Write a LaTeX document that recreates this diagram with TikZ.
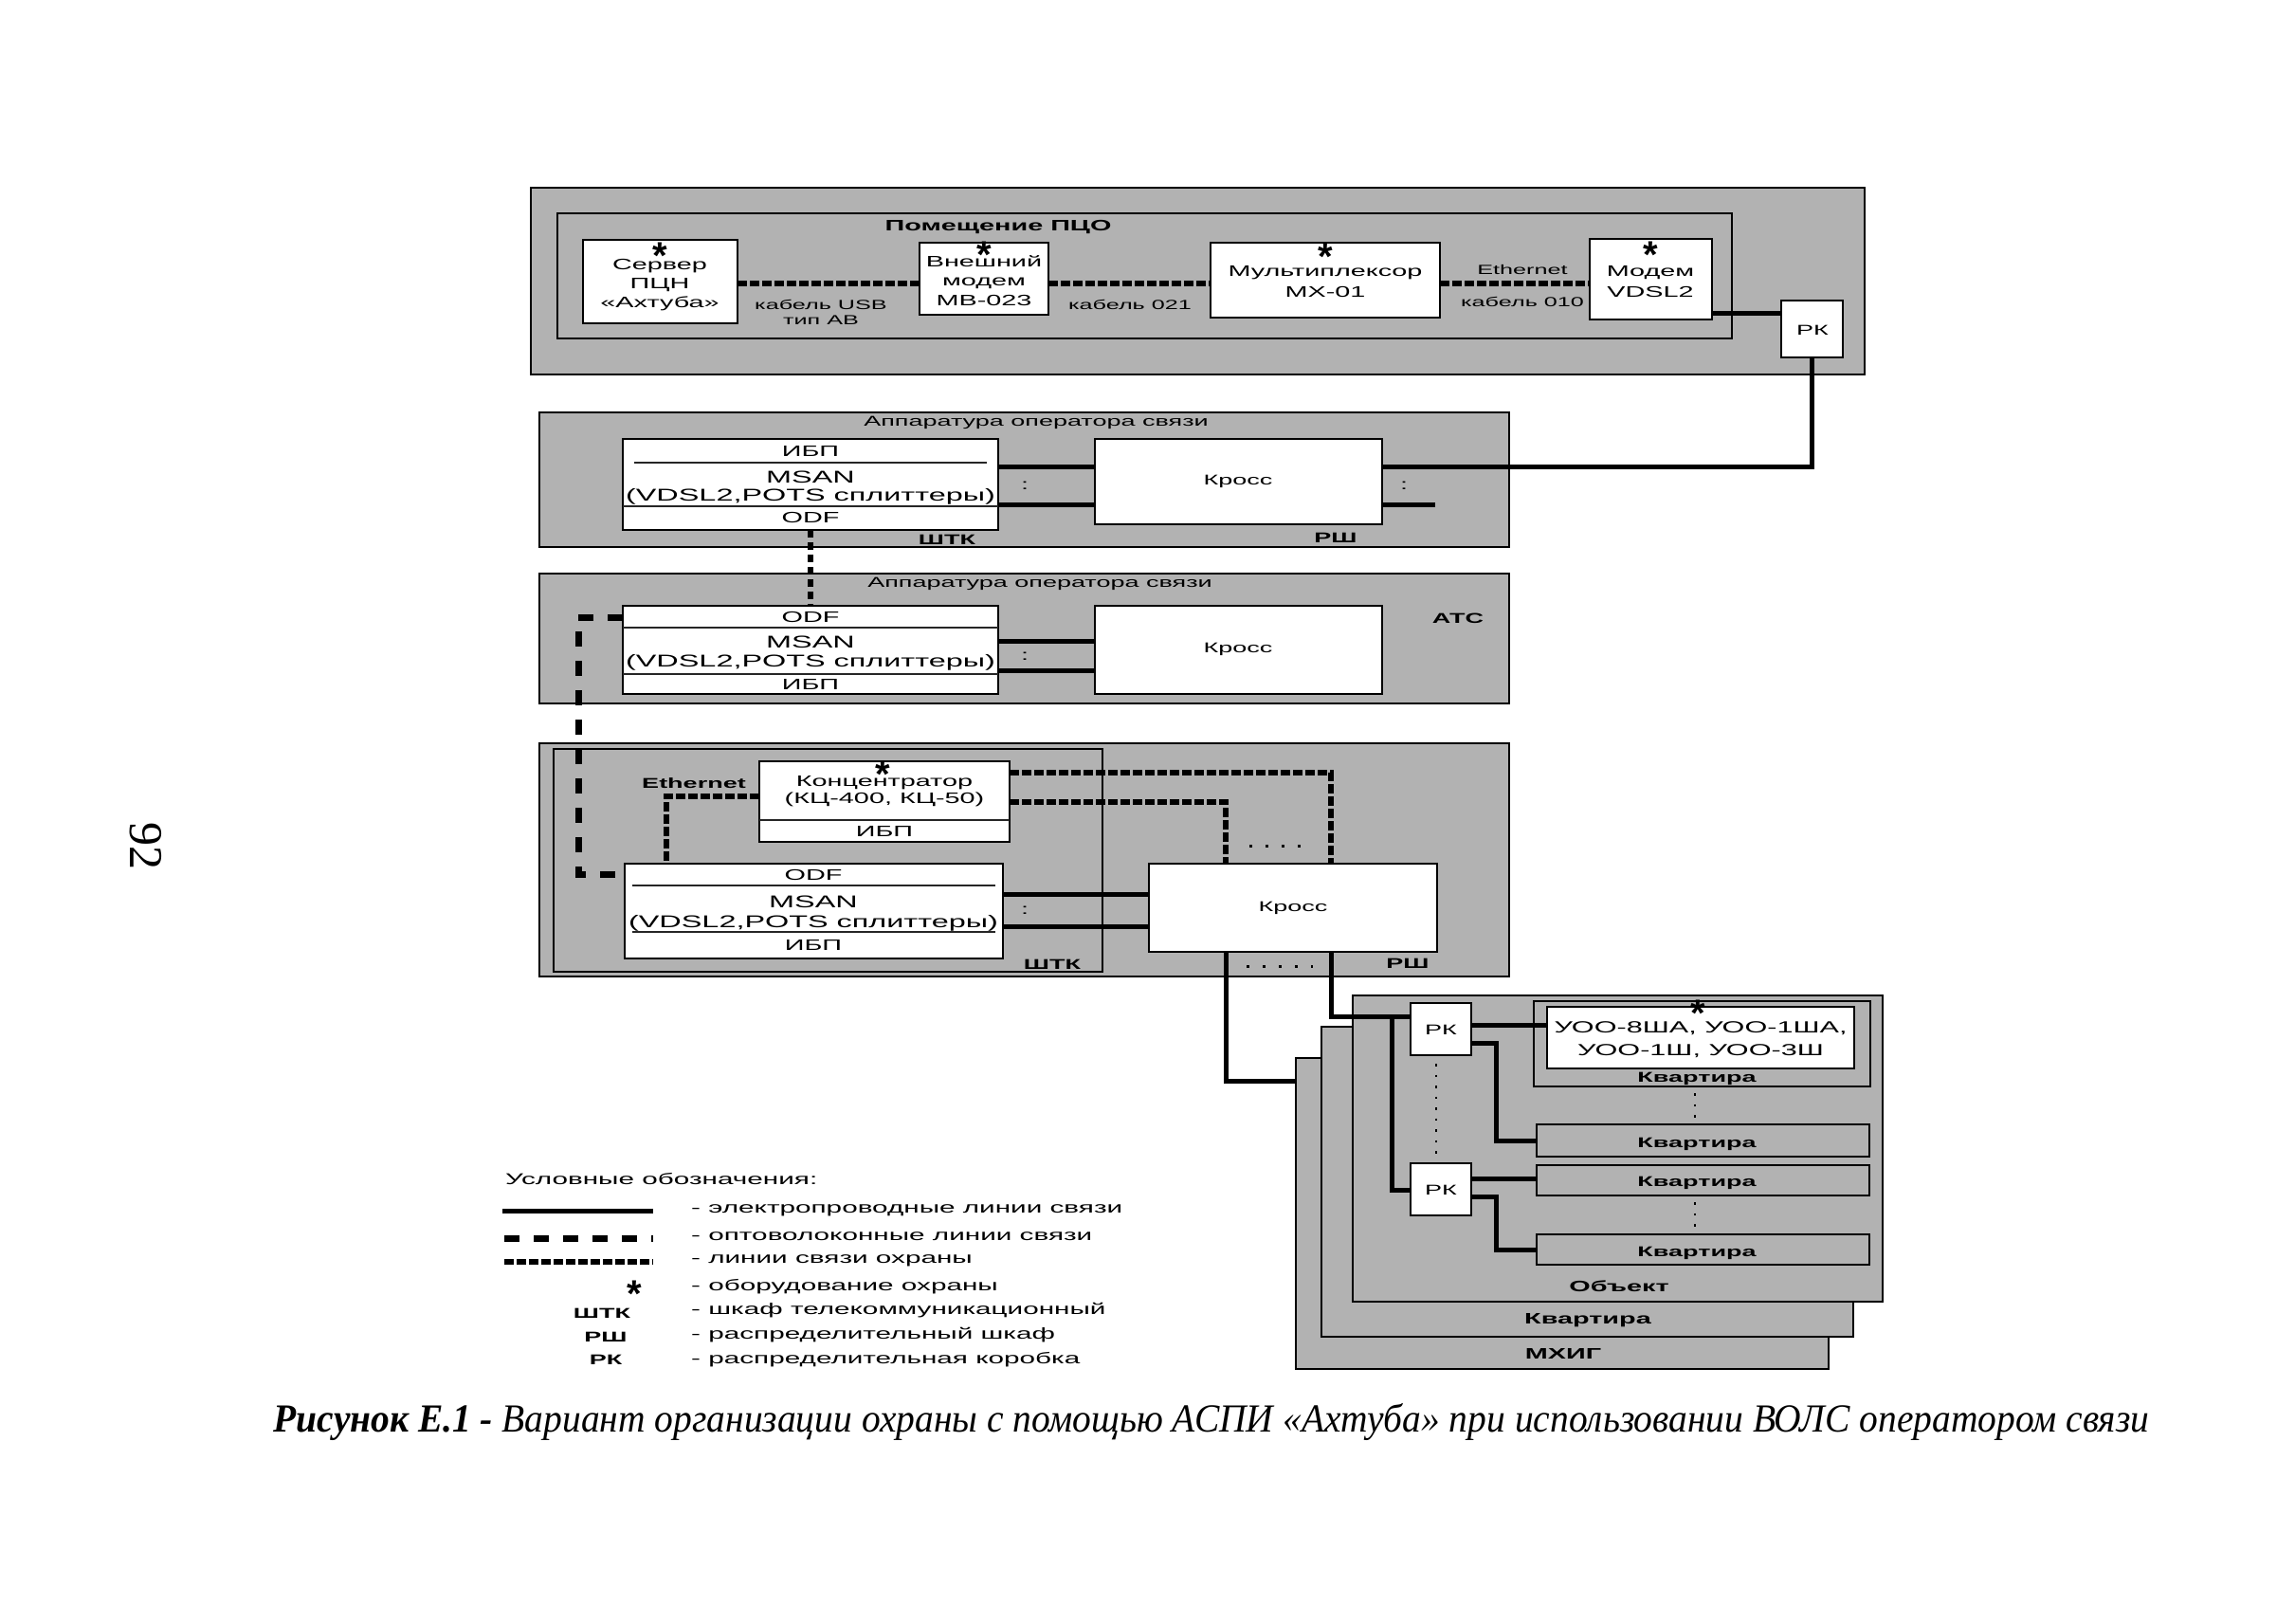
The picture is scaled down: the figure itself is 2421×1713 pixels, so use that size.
\documentclass[tikz,border=0pt]{standalone}
\usepackage{fontspec}
\setmainfont{Liberation Sans}
\newfontfamily\dgfont[FakeStretch=1.8]{Liberation Sans}
\newfontfamily\capfont[FakeStretch=0.94]{Liberation Serif}
\newfontfamily\pnfont{Liberation Serif}
\newfontfamily\starfont{Liberation Sans}
\usetikzlibrary{fit}
\begin{document}
\begin{tikzpicture}[x=1pt,y=-1pt,
  panel/.style={draw=black,line width=1.5pt,fill=black!30,inner sep=0pt,outer sep=0pt},
  frm/.style={draw=black,line width=1.5pt,inner sep=0pt,outer sep=0pt},
  wbox/.style={draw=black,line width=1.5pt,fill=white,inner sep=0pt,outer sep=0pt},
  kfont/.style={font=\dgfont\fontsize{15}{18}\selectfont,inner sep=0pt},
  txt/.style={font=\dgfont\fontsize{16}{20}\selectfont,inner sep=0pt},
  btx/.style={font=\dgfont\fontsize{16}{20}\selectfont,inner sep=0pt,anchor=base},
  mtxt/.style={font=\dgfont\fontsize{18}{20}\selectfont,inner sep=0pt,anchor=base},
  utxt/.style={font=\dgfont\fontsize{17}{20}\selectfont,inner sep=0pt,anchor=base},
  stxt/.style={font=\dgfont\fontsize{14}{17}\selectfont,inner sep=0pt,anchor=base},
  ttxt/.style={font=\dgfont\fontsize{15}{18}\selectfont,inner sep=0pt},
  btxt/.style={font=\dgfont\bfseries\fontsize{15}{18}\selectfont,inner sep=0pt},
  bbtxt/.style={font=\dgfont\bfseries\fontsize{16}{19}\selectfont,inner sep=0pt},
  legtxt/.style={font=\dgfont\fontsize{16.5}{19}\selectfont,inner sep=0pt,anchor=west},
  sstar/.style={font=\starfont\bfseries\fontsize{40}{40}\selectfont,inner sep=0pt,anchor=north},
  sepl/.style={line width=1.2pt,draw=black!85},
  elec/.style={line width=5pt},
  secl/.style={line width=6pt,dash pattern=on 10pt off 3pt},
  odfl/.style={line width=6pt,dash pattern=on 8pt off 5pt},
  optl/.style={line width=7pt,dash pattern=on 16pt off 15pt},
  dotl/.style={line width=2.5pt,dash pattern=on 2.5pt off 9pt},
  hdotl/.style={line width=3pt,dash pattern=on 3pt off 14pt},
]
\useasboundingbox[fill=white] (0,0) rectangle (2421,1713);

% page number
\node[font=\pnfont\fontsize{50}{50}\selectfont,rotate=-90,inner sep=0pt] (pnum) at (154,892) {92};

% ================= ПЦО
\node[panel,fit={(560,198)(1967,395)}] (pco) {};
\node[panel,fit={(588,225)(1827,357)}] (pcoin) {};
\node[bbtxt] (pcot) at (1053,240) {Помещение ПЦО};
\node[wbox,fit={(615,253)(778,341)}] (srv) {};
\node[btx] (srv1) at (696,284) {Сервер};
\node[btx] (srv2) at (696,304) {ПЦН};
\node[btx] (srv3) at (696,324) {«Ахтуба»};
\node[wbox,fit={(970,256)(1106,332)}] (mdm) {};
\node[btx] (mdm1) at (1038,281) {Внешний};
\node[btx] (mdm2) at (1038,301) {модем};
\node[btx] (mdm3) at (1038,322) {MB-023};
\node[wbox,fit={(1277,256)(1519,335)}] (mux) {};
\node[btx] (mux1) at (1398,291) {Мультиплексор};
\node[btx] (mux2) at (1398,313) {MX-01};
\node[wbox,fit={(1677,252)(1806,337)}] (vdsl) {};
\node[btx] (vdsl1) at (1741,291) {Модем};
\node[btx] (vdsl2) at (1741,313) {VDSL2};
\node[wbox,fit={(1879,317)(1944,377)}] (rk0) {};
\node[kfont] (rk0t) at (1912,348) {РК};
\node[sstar] (st1) at (696,256) {*};
\node[sstar] (st2) at (1038,255) {*};
\node[sstar] (st3) at (1398,257) {*};
\node[sstar] (st4) at (1741,255) {*};
\node[stxt] (l1a) at (866,326) {кабель USB};
\node[stxt] (l1b) at (866,342) {тип AB};
\node[stxt] (l2) at (1192,326) {кабель 021};
\node[stxt] (l3) at (1606,289) {Ethernet};
\node[stxt] (l4) at (1606,323) {кабель 010};

% ================= Аппаратура 1 (ШТК / РШ)
\node[panel,fit={(569,435)(1592,577)}] (op1) {};
\node[ttxt] (op1t) at (1093,446) {Аппаратура оператора связи};
\node[wbox,fit={(657,463)(1053,559)}] (msan2) {};
\draw[sepl] ([xshift=12pt]msan2.west |- 0,488) -- ([xshift=-12pt]msan2.east |- 0,488);
\draw[sepl] (msan2.west |- 0,534) -- (msan2.east |- 0,534);
\node[txt] (msan2a) at (855,476) {ИБП};
\node[mtxt] (msan2b) at (855,509) {MSAN};
\node[mtxt] (msan2d) at (855,528) {(VDSL2,POTS сплиттеры)};
\node[txt] (msan2c) at (855,546) {ODF};
\node[wbox,fit={(1155,463)(1458,553)}] (kr2) {};
\node[kfont] (kr2t) at (1306,508) {Кросс};
\node[txt] (c2a) at (1081,512) {:};
\node[txt] (c2b) at (1481,512) {:};
\node[btxt] (shtk2) at (999,569) {ШТК};
\node[btxt] (rsh2) at (1409,567) {РШ};

% ================= Аппаратура 2 (АТС)
\node[panel,fit={(569,605)(1592,742)}] (op2) {};
\node[ttxt] (op2t) at (1097,616) {Аппаратура оператора связи};
\node[btxt] (ats) at (1538,652) {АТС};
\node[wbox,fit={(657,639)(1053,732)}] (msan3) {};
\draw[sepl] (msan3.west |- 0,662) -- (msan3.east |- 0,662);
\draw[sepl] (msan3.west |- 0,711) -- (msan3.east |- 0,711);
\node[txt] (msan3a) at (855,651) {ODF};
\node[mtxt] (msan3b) at (855,683) {MSAN};
\node[mtxt] (msan3d) at (855,703) {(VDSL2,POTS сплиттеры)};
\node[txt] (msan3c) at (855,722) {ИБП};
\node[wbox,fit={(1155,639)(1458,732)}] (kr3) {};
\node[kfont] (kr3t) at (1306,685) {Кросс};
\node[txt] (c3a) at (1081,692) {:};

% ================= ШТК / РШ (нижний)
\node[panel,fit={(569,784)(1592,1030)}] (op3) {};
\node[frm,fit={(584,790)(1163,1025)}] (shtk3f) {};
\node[wbox,fit={(801,803)(1065,888)}] (conc) {};
\draw[sepl] (conc.west |- 0,865) -- (conc.east |- 0,865);
\node[btx] (conca) at (933,829) {Концентратор};
\node[btx] (concc) at (933,847) {(КЦ-400, КЦ-50)};
\node[txt] (concb) at (933,877) {ИБП};
\node[sstar] (st5) at (931,803) {*};
\node[btxt] (eth) at (732,826) {Ethernet};
\node[wbox,fit={(659,911)(1058,1011)}] (msan4) {};
\draw[sepl] ([xshift=8pt]msan4.west |- 0,934) -- ([xshift=-8pt]msan4.east |- 0,934);
\draw[sepl] ([xshift=8pt]msan4.west |- 0,983) -- ([xshift=-8pt]msan4.east |- 0,983);
\node[txt] (msan4a) at (858,923) {ODF};
\node[mtxt] (msan4b) at (858,957) {MSAN};
\node[mtxt] (msan4d) at (858,978) {(VDSL2,POTS сплиттеры)};
\node[txt] (msan4c) at (858,997) {ИБП};
\node[wbox,fit={(1212,911)(1516,1004)}] (kr4) {};
\node[kfont] (kr4t) at (1364,958) {Кросс};
\node[txt] (c4a) at (1081,960) {:};
\node[btxt] (shtk3) at (1110,1017) {ШТК};
\node[btxt] (rsh3) at (1485,1016) {РШ};

% ================= объект
\node[panel,fit={(1367,1116)(1929,1444)}] (mhig) {};
\node[panel,fit={(1394,1083)(1955,1410)}] (kvst) {};
\node[panel,fit={(1427,1050)(1986,1373)}] (obj) {};
\node[bbtxt] (mhigt) at (1649,1428) {МХИГ};
\node[bbtxt] (kvstt) at (1675,1393) {Квартира};
\node[bbtxt] (objt) at (1708,1357) {Объект};
\node[wbox,fit={(1488,1058)(1552,1113)}] (rka) {};
\node[kfont] (rkat) at (1520,1086) {РК};
\node[wbox,fit={(1488,1227)(1552,1282)}] (rkb) {};
\node[kfont] (rkbt) at (1520,1255) {РК};
\node[panel,fit={(1618,1056)(1973,1146)}] (kv1) {};
\node[wbox,fit={(1632,1062)(1956,1127)}] (uoo) {};
\node[utxt] (uoo1) at (1794,1089) {УОО-8ША, УОО-1ША,};
\node[utxt] (uoo2) at (1794,1113) {УОО-1Ш, УОО-3Ш};
\node[sstar] (st6) at (1791,1055) {*};
\node[btxt] (kv1t) at (1790,1138) {Квартира};
\node[panel,fit={(1621,1186)(1972,1220)}] (kv2) {};
\node[btxt] (kv2t) at (1790,1207) {Квартира};
\node[panel,fit={(1621,1229)(1972,1261)}] (kv3) {};
\node[btxt] (kv3t) at (1790,1248) {Квартира};
\node[panel,fit={(1621,1302)(1972,1334)}] (kv4) {};
\node[btxt] (kv4t) at (1790,1322) {Квартира};

% ================= connectors
\draw[secl] (srv.east |- 0,299) -- (mdm.west |- 0,299);
\draw[secl] (mdm.east |- 0,299) -- (mux.west |- 0,299);
\draw[secl] (mux.east |- 0,299) -- (vdsl.west |- 0,299);
\draw[elec] (vdsl.east |- 0,330) -- (rk0.west |- 0,330);
\draw[elec] (rk0.south) |- (kr2.east |- 0,492);
\coordinate (e2) at (1514,532);
\draw[elec] (kr2.east |- e2) -- (e2);
\draw[elec] (msan2.east |- 0,492) -- (kr2.west |- 0,492);
\draw[elec] (msan2.east |- 0,532) -- (kr2.west |- 0,532);
\draw[odfl] (msan2.south) -- (msan3.north);
\draw[elec] (msan3.east |- 0,676) -- (kr3.west |- 0,676);
\draw[elec] (msan3.east |- 0,707) -- (kr3.west |- 0,707);
\coordinate (obend) at (610,922);
\draw[optl] (msan3.west |- 0,651) -| (obend) -- (msan4.west |- obend);
\draw[elec] (msan4.east |- 0,943) -- (kr4.west |- 0,943);
\draw[elec] (msan4.east |- 0,977) -- (kr4.west |- 0,977);
\draw[secl] (conc.west |- 0,840) -| (msan4.north -| 703,0);
\draw[secl] (conc.east |- 0,815) -| (kr4.north -| 1404,0);
\draw[secl] (conc.east |- 0,846) -| (kr4.north -| 1293,0);
\coordinate (d1a) at (1318,892); \coordinate (d1b) at (1385,892);
\draw[hdotl] (d1a) -- (d1b);
\draw[elec] (kr4.south -| 1293,0) |- (mhig.west |- 0,1140);
\draw[elec] (kr4.south -| 1404,0) |- (rka.west |- 0,1072);
\coordinate (d2a) at (1315,1019); \coordinate (d2b) at (1385,1019);
\draw[hdotl] (d2a) -- (d2b);
\coordinate (jn) at (1468,1072);
\draw[elec] (jn) |- (rkb.west |- 0,1255);
\draw[elec] (rka.east |- 0,1081) -- (uoo.west |- 0,1081);
\coordinate (b1) at (1578,1203);
\draw[elec] (rka.east |- 0,1100) -| (b1) -- (kv2.west |- b1);
\draw[elec] (rkb.east |- 0,1243) -- (kv3.west |- 0,1243);
\coordinate (b2) at (1578,1318);
\draw[elec] (rkb.east |- 0,1262) -| (b2) -- (kv4.west |- b2);
\coordinate (d3a) at (1515,1122); \coordinate (d3b) at (1515,1222);
\draw[dotl] (d3a) -- (d3b);
\coordinate (d4a) at (1788,1153); \coordinate (d4b) at (1788,1182);
\draw[dotl] (d4a) -- (d4b);
\coordinate (d5a) at (1788,1268); \coordinate (d5b) at (1788,1298);
\draw[dotl] (d5a) -- (d5b);

% ================= legend
\node[legtxt] (legt) at (533,1244) {Условные обозначения:};
\coordinate (lg1a) at (530,1277); \coordinate (lg1b) at (689,1277);
\draw[elec] (lg1a) -- (lg1b);
\coordinate (lg2a) at (532,1306); \coordinate (lg2b) at (689,1306);
\draw[optl] (lg2a) -- (lg2b);
\coordinate (lg3a) at (532,1331); \coordinate (lg3b) at (689,1331);
\draw[secl] (lg3a) -- (lg3b);
\node[sstar] (lgs) at (669,1351) {*};
\node[btxt] (lgshtk) at (635,1385) {ШТК};
\node[btxt] (lgrsh) at (639,1410) {РШ};
\node[btxt] (lgrk) at (639,1434) {РК};
\node[legtxt] (lg1t) at (729,1277) {- электропроводные линии связи};
\node[legtxt] (lg2t) at (729,1304) {- оптоволоконные линии связи};
\node[legtxt] (lg3t) at (729,1330) {- линии связи охраны};
\node[legtxt] (lg4t) at (729,1357) {- оборудование охраны};
\node[legtxt] (lg5t) at (729,1382) {- шкаф телекоммуникационный};
\node[legtxt] (lg6t) at (729,1408) {- распределительный шкаф};
\node[legtxt] (lg7t) at (729,1434) {- распределительная коробка};

% ================= caption
\node[font=\capfont\fontsize{42}{48}\selectfont,inner sep=0pt] (cap) at (1278,1500) {\bfseries\itshape Рисунок Е.1 - \mdseries Вариант организации охраны с помощью АСПИ «Ахтуба» при использовании ВОЛС оператором связи};
\end{tikzpicture}
\end{document}
